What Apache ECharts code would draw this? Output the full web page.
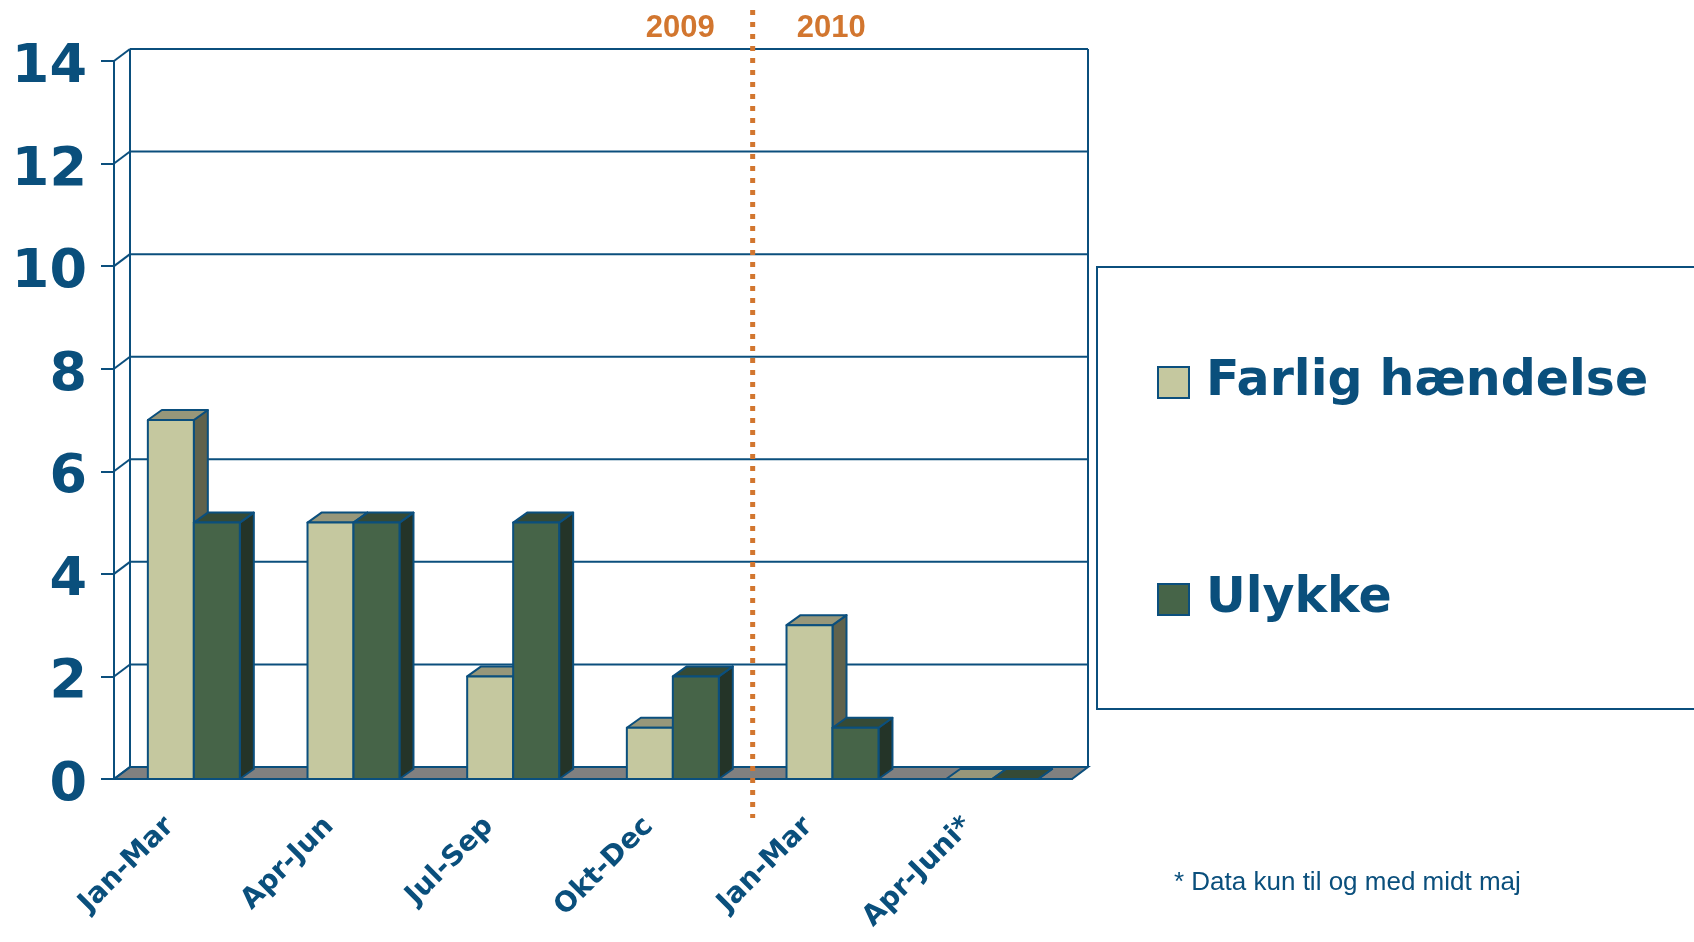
<!DOCTYPE html>
<html>
<head>
<meta charset="utf-8">
<title>Farlige hændelser og ulykker</title>
<script src="https://cdn.jsdelivr.net/npm/echarts@6/dist/echarts.min.js"></script>
<style>
html, body { margin: 0; padding: 0; background: #fff; }
#chart { width: 1694px; height: 942px; }
</style>
</head>
<body>
<div id="chart"></div>
<script>
// data
const categories = ['Jan-Mar', 'Apr-Jun', 'Jul-Sep', 'Okt-Dec', 'Jan-Mar', 'Apr-Juni*'];
const farlig = [7, 5, 2, 1, 3, 0];
const ulykke = [5, 5, 5, 2, 1, 0];
const yTicks = [0, 2, 4, 6, 8, 10, 12, 14];
const years = ['2009', '2010'];
const yearSplit = 3.5; // mellem Okt-Dec og Jan-Mar

// farver
const LINE = '#0b4f7d';
const TEXT = '#0a4f7c';
const ORANGE = '#d2762f';
const FLOOR = '#808080';
const lightColors = { front: '#c5c89f', top: '#97977a', side: '#60624c' };
const darkColors = { front: '#466448', top: '#354a36', side: '#243428' };

// 3d dybde
const WX = 16, WY = -12;   // væg
const BX = 14, BY = -10;   // søjler
const BAR_FRAC = 0.288;

const chart = echarts.init(document.getElementById('chart'));

function line(x1, y1, x2, y2) {
  return {
    type: 'line',
    shape: { x1: x1, y1: y1, x2: x2, y2: y2 },
    style: { stroke: LINE, lineWidth: 2 }
  };
}

// baggrundsvæg, gulv og gitterlinjer
function renderWall(params, api) {
  const cs = params.coordSys;
  const left = cs.x, right = cs.x + cs.width;
  const y0 = api.coord([0, 0])[1];
  const yTop = api.coord([0, yTicks[yTicks.length - 1]])[1];
  const children = [];
  children.push({
    type: 'polygon',
    shape: { points: [[left, y0], [right, y0], [right + WX, y0 + WY], [left + WX, y0 + WY]] },
    style: { fill: FLOOR, stroke: LINE, lineWidth: 2 }
  });
  yTicks.forEach(function (v) {
    const y = api.coord([0, v])[1];
    children.push(line(left + WX, y + WY, right + WX, y + WY));
    children.push(line(left, y, left + WX, y + WY));
  });
  children.push(line(left + WX, yTop + WY, left + WX, y0 + WY));
  children.push(line(right + WX, yTop + WY, right + WX, y0 + WY));
  return { type: 'group', children: children };
}

// 3d søjle
function barRenderer(offset, colors) {
  return function (params, api) {
    const cat = api.value(0);
    const base = api.coord([cat, 0]);
    const top = api.coord([cat, api.value(1)]);
    const w = api.size([1, 0])[0] * BAR_FRAC;
    const x0 = base[0] + offset * w;
    const ty = top[1], by = base[1];
    const st = { stroke: LINE, lineWidth: 2, lineJoin: 'round' };
    return {
      type: 'group',
      children: [
        {
          type: 'polygon',
          shape: { points: [[x0 + w, ty], [x0 + w + BX, ty + BY], [x0 + w + BX, by + BY], [x0 + w, by]] },
          style: Object.assign({ fill: colors.side }, st)
        },
        {
          type: 'polygon',
          shape: { points: [[x0, ty], [x0 + w, ty], [x0 + w + BX, ty + BY], [x0 + BX, ty + BY]] },
          style: Object.assign({ fill: colors.top }, st)
        },
        {
          type: 'rect',
          shape: { x: x0, y: ty, width: w, height: by - ty },
          style: Object.assign({ fill: colors.front }, st)
        }
      ]
    };
  };
}

// stiplet årsskillelinje
function renderDivider(params, api) {
  const cs = params.coordSys;
  const band = api.size([1, 0])[0];
  const x = api.coord([Math.floor(yearSplit), 0])[0] + band * (yearSplit - Math.floor(yearSplit));
  const yearFont = { fontFamily: 'Liberation Sans', fontWeight: 'bold', fontSize: 31, fill: ORANGE, verticalAlign: 'middle' };
  return {
    type: 'group',
    children: [
      {
        type: 'line',
        shape: { x1: x, y1: cs.y - 51, x2: x, y2: cs.y + cs.height + 39 },
        style: { stroke: ORANGE, lineWidth: 5, lineDash: [5, 7] }
      },
      { type: 'text', style: Object.assign({ text: years[0], x: x - 38, y: cs.y - 33, align: 'right' }, yearFont) },
      { type: 'text', style: Object.assign({ text: years[1], x: x + 44, y: cs.y - 33, align: 'left' }, yearFont) }
    ]
  };
}

const option = {
  animation: false,
  backgroundColor: '#fff',
  grid: { left: 114, top: 61, width: 958, height: 718 },
  xAxis: {
    type: 'category',
    data: categories,
    axisLine: { lineStyle: { color: LINE, width: 2 } },
    axisTick: { length: 12, lineStyle: { color: LINE, width: 2 } },
    axisLabel: {
      interval: 0,
      rotate: 45,
      margin: 19,
      padding: [0, 34, 0, 0],
      color: TEXT,
      fontFamily: 'DejaVu Sans',
      fontWeight: 'bold',
      fontSize: 28
    },
    splitLine: { show: false }
  },
  yAxis: {
    type: 'value',
    min: 0,
    max: 14,
    interval: 2,
    axisLine: { show: true, lineStyle: { color: LINE, width: 2 } },
    axisTick: { show: true, length: 13, lineStyle: { color: LINE, width: 2 } },
    axisLabel: {
      margin: 27,
      formatter: '{v|{value}}',
      rich: {
        v: {
          padding: [14, 0, 0, 0],
          color: TEXT,
          fontFamily: 'DejaVu Sans',
          fontWeight: 'bold',
          fontSize: 54
        }
      }
    },
    splitLine: { show: false }
  },
  legend: {
    orient: 'vertical',
    left: 1157,
    top: 349,
    padding: 0,
    itemWidth: 31,
    itemHeight: 31,
    itemGap: 150,
    selectedMode: false,
    icon: 'rect',
    textStyle: {
      fontFamily: 'DejaVu Sans',
      fontWeight: 'bold',
      fontSize: 49,
      lineHeight: 51,
      color: TEXT,
      padding: [16, 0, 0, 12]
    },
    data: [
      { name: 'Farlig hændelse', itemStyle: { color: lightColors.front, borderColor: LINE, borderWidth: 2 } },
      { name: 'Ulykke', itemStyle: { color: darkColors.front, borderColor: LINE, borderWidth: 2 } }
    ]
  },
  graphic: [
    {
      type: 'rect',
      z: 0,
      shape: { x: 1097, y: 267, width: 700, height: 442 },
      style: { fill: '#fff', stroke: LINE, lineWidth: 2 }
    },
    {
      type: 'text',
      left: 1174,
      top: 870,
      style: {
        text: '* Data kun til og med midt maj',
        fill: TEXT,
        fontFamily: 'Liberation Sans',
        fontSize: 26
      }
    }
  ],
  series: [
    {
      name: 'wall',
      type: 'custom',
      clip: false,
      silent: true,
      renderItem: renderWall,
      data: [[0, 0]]
    },
    {
      name: 'Farlig hændelse',
      type: 'custom',
      clip: false,
      itemStyle: { color: lightColors.front },
      renderItem: barRenderer(-1, lightColors),
      data: farlig.map(function (v, i) { return [i, v]; })
    },
    {
      name: 'Ulykke',
      type: 'custom',
      clip: false,
      itemStyle: { color: darkColors.front },
      renderItem: barRenderer(0, darkColors),
      data: ulykke.map(function (v, i) { return [i, v]; })
    },
    {
      name: 'divider',
      type: 'custom',
      clip: false,
      silent: true,
      z: 5,
      renderItem: renderDivider,
      data: [[0, 0]]
    }
  ]
};

chart.setOption(option);
</script>
</body>
</html>
